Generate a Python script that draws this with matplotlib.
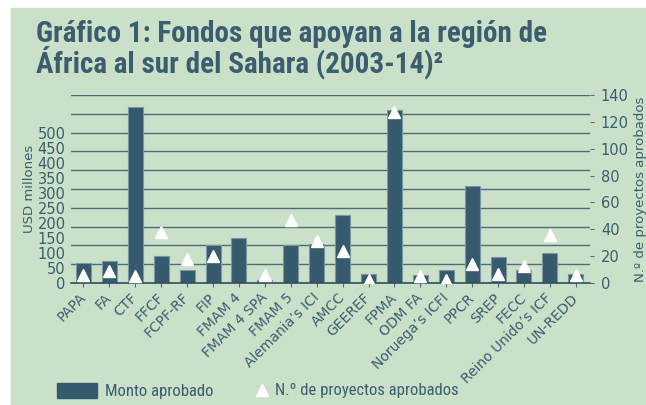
import numpy as np
import matplotlib
matplotlib.use('Agg')
import matplotlib.pyplot as plt
import matplotlib.patches as mpatches
from matplotlib.lines import Line2D
from matplotlib.ticker import LinearLocator
from matplotlib import font_manager

# ── Data ──────────────────────────────────────────────────────────────────────
FUNDS = ['PAPA', 'FA', 'CTF', 'FFCF', 'FCPF-RF', 'FIP', 'FMAM 4', 'FMAM 4 SPA',
         'FMAM 5', 'Alemania\u2019s ICI', 'AMCC', 'GEEREF', 'FPMA', 'ODM FA',
         'Noruega\u2019s ICFI', 'PPCR', 'SREP', 'FECC',
         'Reino Unido\u2019s ICF', 'UN-REDD']
USD_APPROVED = [66, 75, 589, 92, 44, 127, 152, 10, 127, 130,
                227, 32, 577, 26, 44, 324, 86, 44, 100, 29]
N_PROJECTS = [6, 9, 5, 38, 18, 20, np.nan, 6, 47, 31,
              24, 2, 127, 5, 2, 14, 7, 13, 36, 6]
LEFT_TICKS = list(range(0, 501, 50))
RIGHT_TICKS = list(range(0, 141, 20))

# ── Colors ────────────────────────────────────────────────────────────────────
BG = '#cbe0c8'
BAR = '#365a6d'
TXT = '#3b5d70'
GRID = '#4d6c7b'

# pick a narrow face if one is installed
names = {f.name for f in font_manager.fontManager.ttflist}
NARROW = [n for n in ['Liberation Sans Narrow', 'Roboto Condensed',
                      'DejaVu Sans'] if n in names]

fig = plt.figure(figsize=(6.46, 4.05), dpi=100)
fig.patch.set_facecolor('white')
fig.patches.append(mpatches.Rectangle((11 / 646, 0), 1, 397 / 405,
                                      transform=fig.transFigure,
                                      color=BG, zorder=-10))

ax = fig.add_axes([0.110, 0.301, 0.803, 0.4645])
ax.set_facecolor('none')
x = np.arange(len(FUNDS))

ax.bar(x, USD_APPROVED, width=0.58, color=BAR, edgecolor='#7a97a2',
       linewidth=0.8, zorder=2)
ax.set_xlim(-0.48, 19.54)
ax.set_ylim(0, 628)
ax.set_yticks(LEFT_TICKS)
ax.yaxis.set_minor_locator(LinearLocator(11))
ax.grid(which='minor', axis='y', color=GRID, linewidth=1, zorder=0)
ax.tick_params(axis='y', which='both', length=0, pad=4, labelsize=10.5,
               labelcolor=TXT)
ax.set_ylabel('USD millones', color=TXT, fontsize=9.5, labelpad=1)

for s in ['top', 'left', 'right']:
    ax.spines[s].set_visible(False)
ax.spines['bottom'].set_color('#2f4f5f')
ax.spines['bottom'].set_linewidth(1.2)

ax.set_xticks(x)
ax.set_xticklabels(FUNDS, rotation=45, ha='right', va='center',
                   rotation_mode='anchor', fontsize=10, color=TXT)
ax.tick_params(axis='x', length=3, color=GRID, pad=6)

ax2 = ax.twinx()
ax2.plot(x, N_PROJECTS, linestyle='none', marker='^', markersize=9,
         color='white', markeredgecolor='white', zorder=5)
ax2.set_ylim(0, 140)
ax2.set_yticks(RIGHT_TICKS)
ax2.tick_params(axis='y', length=3, color=GRID, pad=5, labelsize=10.5,
                labelcolor=TXT)
for s in ax2.spines.values():
    s.set_visible(False)
ax2.set_ylabel('N.\u00ba de proyectos aprobados', color=TXT, fontsize=9.5,
               labelpad=4)

# ── Title ─────────────────────────────────────────────────────────────────────
title_kw = dict(family=NARROW, fontweight='bold', fontsize=21, color=TXT,
                va='baseline', stretch='condensed')
fig.text(36 / 646, (405 - 42) / 405,
         'Gráfico 1: Fondos que apoyan a la región de', **title_kw)
fig.text(36 / 646, (405 - 72) / 405,
         'África al sur del Sahara (2003-14)\u00b2', **title_kw)

# ── Legend ────────────────────────────────────────────────────────────────────
h_bar = mpatches.Patch(color=BAR, label='Monto aprobado')
h_tri = Line2D([], [], linestyle='none', marker='^', markersize=9,
               color='white', label='N.\u00ba de proyectos aprobados')
leg_prop = dict(family=NARROW, size=12, stretch='condensed')
fig.legend(handles=[h_bar], loc='center left',
           bbox_to_anchor=(57 / 646, 14 / 405), frameon=False,
           borderpad=0, borderaxespad=0, handlelength=2.4,
           handleheight=1.0, handletextpad=0.5,
           prop=leg_prop, labelcolor=TXT)
fig.legend(handles=[h_tri], loc='center left',
           bbox_to_anchor=(255 / 646, 14 / 405), frameon=False,
           borderpad=0, borderaxespad=0, handlelength=0.8,
           handletextpad=0.4, prop=leg_prop, labelcolor=TXT)

fig.savefig('out.png', dpi=100)
